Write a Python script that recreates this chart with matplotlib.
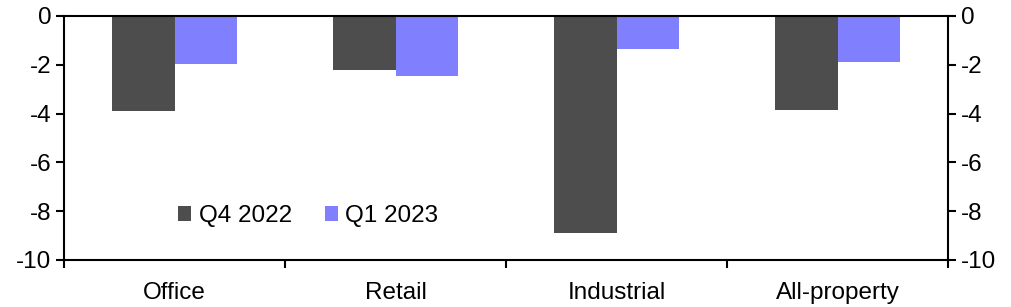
import matplotlib
matplotlib.use("Agg")
import matplotlib.pyplot as plt
import numpy as np

categories = ["Office", "Retail", "Industrial", "All-property"]
q4_2022 = [-3.9, -2.2, -8.9, -3.85]
q1_2023 = [-1.95, -2.45, -1.35, -1.9]
yticks = [0, -2, -4, -6, -8, -10]

plt.rcParams['font.family'] = ['Liberation Sans', 'DejaVu Sans']
fig = plt.figure(figsize=(10.11, 3.07), dpi=100)
ax = fig.add_axes([64/1011, 1-260/307, (948-64)/1011, (260-16)/307])

x = np.arange(len(categories))
w = 0.285
ax.bar(x - w/2, q4_2022, w, color="#4d4d4d", label="Q4 2022")
ax.bar(x + w/2, q1_2023, w, color="#8080ff", label="Q1 2023")

ax.set_xlim(-0.5, len(categories) - 0.5)
ax.set_ylim(-10, 0)
ax.set_yticks(yticks)
ax.set_yticklabels([str(v) for v in yticks])
ax.tick_params(axis='y', labelsize=17.5, direction='out', length=6, width=1.5,
               left=True, right=True, labelleft=True, labelright=True, pad=3)
ax.set_xticks(np.arange(-0.5, len(categories), 1.0))
ax.set_xticklabels([])
ax.set_xticks(x, minor=True)
ax.set_xticklabels(categories, minor=True)
ax.tick_params(axis='x', which='major', direction='out', length=6, width=1.5)
ax.tick_params(axis='x', which='minor', length=0, labelsize=17.5, pad=16)
for s in ax.spines.values():
    s.set_linewidth(1.5)

ax.legend(loc='lower left', bbox_to_anchor=(0.118, 0.095), ncol=2, frameon=False,
          fontsize=17.5, handlelength=0.55, handleheight=0.55, handletextpad=0.3,
          columnspacing=1.35, borderaxespad=0)

fig.savefig("out.png", dpi=100)
